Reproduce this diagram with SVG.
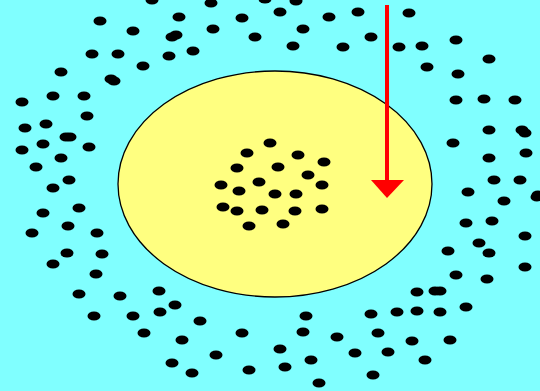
<svg xmlns="http://www.w3.org/2000/svg" xmlns:xlink="http://www.w3.org/1999/xlink" width="540" height="391" viewBox="0 0 540 391">
<style>
.dot{fill:#000}
</style>
<defs>
<ellipse id="d" class="dot" cx="0" cy="0" rx="6.5" ry="4.5"/>
</defs>
<rect x="0" y="0" width="540" height="391" fill="#80ffff"/>
<ellipse cx="275" cy="184" rx="157" ry="113" fill="#ffff80" stroke="#000" stroke-width="1.3"/>
<g id="outer-dots">
<use href="#d" x="100" y="21"/><use href="#d" x="133" y="31"/><use href="#d" x="179" y="17"/><use href="#d" x="172" y="37"/><use href="#d" x="176" y="35"/>
<use href="#d" x="92" y="54"/><use href="#d" x="118" y="54"/><use href="#d" x="169" y="56"/><use href="#d" x="143" y="66"/><use href="#d" x="61" y="72"/>
<use href="#d" x="111" y="79"/><use href="#d" x="114" y="81"/><use href="#d" x="53" y="96"/><use href="#d" x="84" y="96"/><use href="#d" x="22" y="102"/>
<use href="#d" x="87" y="116"/><use href="#d" x="25" y="128"/><use href="#d" x="46" y="124"/><use href="#d" x="66" y="137"/><use href="#d" x="70" y="137"/>
<use href="#d" x="43" y="144"/><use href="#d" x="22" y="150"/><use href="#d" x="89" y="147"/><use href="#d" x="61" y="158"/><use href="#d" x="36" y="167"/>
<use href="#d" x="69" y="180"/><use href="#d" x="53" y="188"/><use href="#d" x="152" y="0"/>
<use href="#d" x="211" y="3"/><use href="#d" x="265" y="-1"/><use href="#d" x="296" y="1"/><use href="#d" x="242" y="18"/><use href="#d" x="280" y="12"/>
<use href="#d" x="329" y="17"/><use href="#d" x="358" y="12"/><use href="#d" x="213" y="29"/><use href="#d" x="255" y="37"/><use href="#d" x="303" y="29"/>
<use href="#d" x="293" y="46"/><use href="#d" x="343" y="47"/><use href="#d" x="193" y="51"/>
<use href="#d" x="409" y="13"/><use href="#d" x="371" y="37"/><use href="#d" x="399" y="47"/><use href="#d" x="422" y="46"/><use href="#d" x="456" y="40"/>
<use href="#d" x="427" y="67"/><use href="#d" x="489" y="59"/><use href="#d" x="458" y="74"/><use href="#d" x="456" y="100"/><use href="#d" x="484" y="99"/>
<use href="#d" x="515" y="100"/><use href="#d" x="489" y="130"/><use href="#d" x="522" y="130"/><use href="#d" x="525" y="133"/><use href="#d" x="453" y="143"/>
<use href="#d" x="489" y="158"/><use href="#d" x="526" y="153"/><use href="#d" x="494" y="180"/><use href="#d" x="520" y="180"/><use href="#d" x="468" y="192"/>
<use href="#d" x="538" y="195"/>
<use href="#d" x="43" y="213"/><use href="#d" x="79" y="208"/><use href="#d" x="32" y="233"/><use href="#d" x="68" y="226"/><use href="#d" x="97" y="233"/>
<use href="#d" x="67" y="253"/><use href="#d" x="102" y="254"/><use href="#d" x="53" y="264"/><use href="#d" x="96" y="274"/><use href="#d" x="79" y="294"/>
<use href="#d" x="120" y="296"/><use href="#d" x="159" y="291"/><use href="#d" x="175" y="305"/><use href="#d" x="94" y="316"/><use href="#d" x="133" y="316"/>
<use href="#d" x="160" y="312"/><use href="#d" x="144" y="333"/><use href="#d" x="182" y="340"/><use href="#d" x="172" y="363"/>
<use href="#d" x="200" y="321"/><use href="#d" x="242" y="333"/><use href="#d" x="216" y="355"/><use href="#d" x="192" y="373"/><use href="#d" x="249" y="370"/>
<use href="#d" x="280" y="349"/><use href="#d" x="285" y="367"/><use href="#d" x="306" y="316"/><use href="#d" x="303" y="332"/><use href="#d" x="337" y="337"/>
<use href="#d" x="311" y="360"/><use href="#d" x="355" y="353"/><use href="#d" x="319" y="383"/>
<use href="#d" x="504" y="201"/><use href="#d" x="537" y="197"/><use href="#d" x="466" y="223"/><use href="#d" x="492" y="221"/><use href="#d" x="525" y="236"/>
<use href="#d" x="479" y="243"/><use href="#d" x="489" y="253"/><use href="#d" x="448" y="251"/><use href="#d" x="525" y="267"/><use href="#d" x="456" y="275"/>
<use href="#d" x="487" y="279"/><use href="#d" x="417" y="292"/><use href="#d" x="435" y="291"/><use href="#d" x="440" y="291"/><use href="#d" x="466" y="307"/>
<use href="#d" x="371" y="314"/><use href="#d" x="397" y="312"/><use href="#d" x="417" y="311"/><use href="#d" x="440" y="312"/><use href="#d" x="378" y="333"/>
<use href="#d" x="412" y="341"/><use href="#d" x="450" y="340"/><use href="#d" x="388" y="352"/><use href="#d" x="425" y="360"/><use href="#d" x="373" y="375"/>
</g>
<g id="inner-dots">
<use href="#d" x="270" y="143"/><use href="#d" x="247" y="153"/><use href="#d" x="298" y="155"/><use href="#d" x="324" y="162"/><use href="#d" x="237" y="168"/>
<use href="#d" x="278" y="167"/><use href="#d" x="308" y="175"/><use href="#d" x="221" y="185"/><use href="#d" x="259" y="182"/><use href="#d" x="322" y="185"/>
<use href="#d" x="239" y="191"/><use href="#d" x="275" y="194"/><use href="#d" x="296" y="194"/><use href="#d" x="223" y="207"/><use href="#d" x="237" y="211"/>
<use href="#d" x="262" y="210"/><use href="#d" x="295" y="211"/><use href="#d" x="322" y="209"/><use href="#d" x="249" y="226"/><use href="#d" x="283" y="224"/>
</g>
<g id="arrow">
<line x1="387" y1="5" x2="387" y2="182" stroke="#ff0000" stroke-width="4"/>
<polygon points="371,180 404,180 387,198" fill="#ff0000"/>
</g>
</svg>
